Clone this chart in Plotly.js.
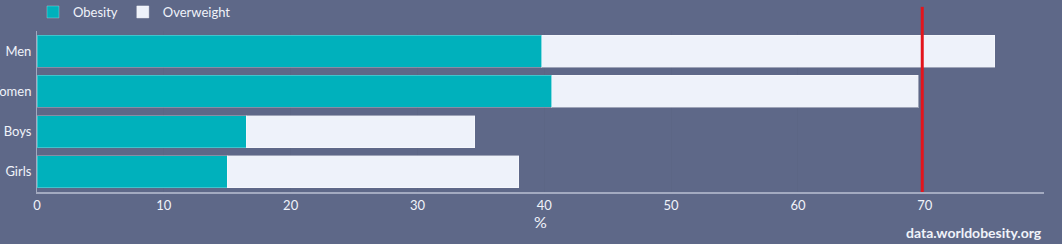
<!DOCTYPE html>
<html>
<head>
<meta charset="utf-8">
<script src="https://cdn.plot.ly/plotly-3.0.1.min.js"></script>
<style>
html,body{margin:0;padding:0;background:#5e6888;}
#chart{width:1062px;height:244px;}
</style>
</head>
<body>
<div id="chart"></div>
<script>
const categories = ["Men", "Women", "Boys", "Girls"];
const obesity = [39.8, 40.6, 16.5, 15.0];
const overweight = [35.7, 28.9, 18.0, 23.0];
const targetValue = 69.8;
const seriesNames = ["Obesity", "Overweight"];
const xTicks = [0, 10, 20, 30, 40, 50, 60, 70];

const font = "Lato, 'Open Sans', sans-serif";
const traces = [
  {
    type: "bar", orientation: "h", name: seriesNames[0],
    y: categories, x: obesity,
    marker: {color: "#00b1bc", line: {color: "rgba(255,255,255,0.25)", width: 1}}
  },
  {
    type: "bar", orientation: "h", name: seriesNames[1],
    y: categories, x: overweight,
    marker: {color: "#eef2fa", line: {color: "rgba(255,255,255,0.4)", width: 1}}
  }
];
const layout = {
  width: 1062, height: 244,
  paper_bgcolor: "#5e6888", plot_bgcolor: "#5e6888",
  barmode: "stack", bargap: 0.2,
  margin: {l: 37, r: 18, t: 31, b: 52, autoexpand: false},
  font: {family: font, color: "#f0f3fa", size: 12},
  showlegend: true,
  legend: {orientation: "h", x: -0.004, xanchor: "left", y: 1.118, yanchor: "middle",
    font: {size: 13, color: "#f0f3fa"}, traceorder: "normal"},
  xaxis: {
    range: [0, 79.4], tickvals: xTicks, ticktext: xTicks.map(String),
    showgrid: true, gridcolor: "rgba(90,100,130,0.35)", zeroline: false,
    showline: true, linecolor: "#a3aac0", linewidth: 2,
    tickfont: {size: 13, color: "#f0f3fa"}, ticks: "", automargin: false
  },
  yaxis: {
    autorange: "reversed", showgrid: false, zeroline: false,
    showline: true, linecolor: "#a3aac0", linewidth: 1,
    tickfont: {size: 13, color: "#f0f3fa"}, ticks: "", automargin: false,
    ticklabelstandoff: 2
  },
  shapes: [{
    type: "line", xref: "x", yref: "paper",
    x0: targetValue, x1: targetValue, y0: 0, y1: 1.15,
    line: {color: "#e3151c", width: 3}
  }],
  annotations: [
    {
      text: "%", xref: "paper", yref: "paper",
      x: 0.5, y: -0.182, xanchor: "center", yanchor: "middle", showarrow: false,
      font: {size: 16, color: "#f0f3fa"}
    },
    {
      text: "<b>data.worldobesity.org</b>", xref: "paper", yref: "paper",
      x: 1.0, y: -0.25, xanchor: "right", yanchor: "middle", showarrow: false,
      font: {size: 14, color: "#f0f3fa"}
    }
  ]
};
Plotly.newPlot("chart", traces, layout, {displayModeBar: false});
</script>
</body>
</html>
